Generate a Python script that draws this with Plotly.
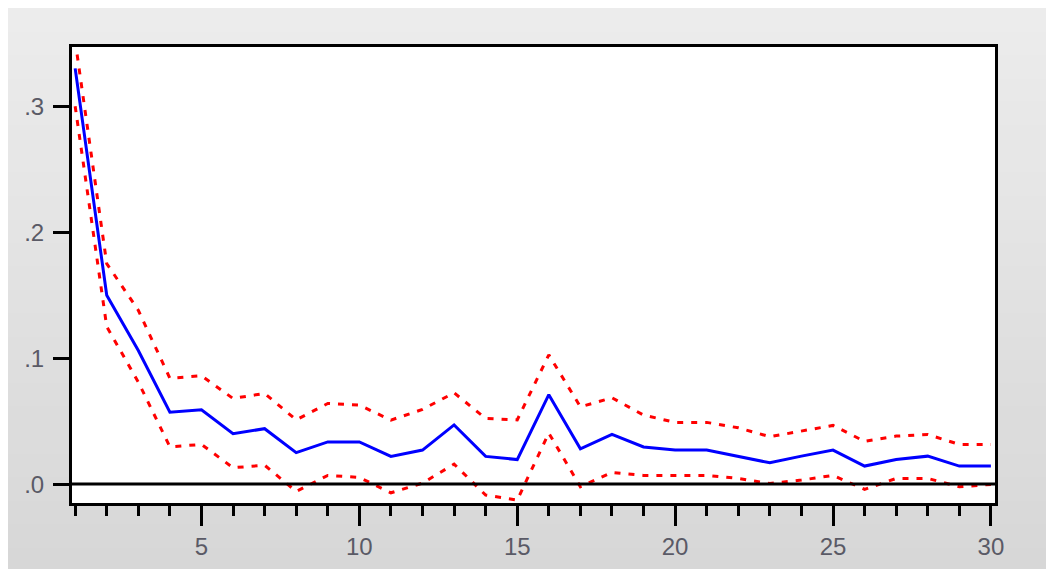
import plotly.graph_objects as go

periods = list(range(1, 31))
response = [0.330, 0.150, 0.106, 0.057, 0.059, 0.040, 0.044, 0.025, 0.0335, 0.0335,
            0.022, 0.027, 0.047, 0.022, 0.0195, 0.071, 0.028, 0.0395, 0.0295, 0.027,
            0.027, 0.0222, 0.0169, 0.0222, 0.027, 0.0143, 0.0196, 0.0222, 0.0143, 0.0143]
upper = [0.352, 0.175, 0.138, 0.084, 0.086, 0.068, 0.072, 0.051, 0.064, 0.0627,
         0.0508, 0.0593, 0.0725, 0.0521, 0.051, 0.1026, 0.0614, 0.0685, 0.0548, 0.049,
         0.049, 0.0447, 0.0376, 0.0423, 0.0466, 0.0339, 0.0381, 0.0394, 0.0315, 0.0315]
lower = [0.300, 0.125, 0.081, 0.0296, 0.0315, 0.013, 0.015, -0.0058, 0.0069, 0.0053,
         -0.0069, 0.0008, 0.0159, -0.0087, -0.0127, 0.0405, -0.0021, 0.0093, 0.0069, 0.0069,
         0.0069, 0.0045, 0.0005, 0.0032, 0.0069, -0.0042, 0.0045, 0.0045, -0.0021, -0.0003]
y_tick_vals = [0.0, 0.1, 0.2, 0.3]
y_tick_text = [".0", ".1", ".2", ".3"]
x_tick_vals = [5, 10, 15, 20, 25, 30]

OFF = 8  # page body margin
W, H = 1054 - OFF, 569 - OFF
L, R, T, B = 72 - OFF, 995 - OFF, 47 - OFF, 503 - OFF  # plot area in figure pixels

def px_x(p):
    return (p - L) / (R - L)

def px_y(p):
    return (B - p) / (B - T)

fig = go.Figure()

fig.add_trace(go.Scatter(x=periods, y=upper, mode="lines",
                         line=dict(color="#ff0000", width=3, dash="6px,8px"),
                         showlegend=False, hoverinfo="skip"))
fig.add_trace(go.Scatter(x=periods, y=lower, mode="lines",
                         line=dict(color="#ff0000", width=3, dash="6px,8px"),
                         showlegend=False, hoverinfo="skip"))
fig.add_trace(go.Scatter(x=periods, y=response, mode="lines",
                         line=dict(color="#0000ff", width=3),
                         showlegend=False, hoverinfo="skip"))

# gradient gray background (bands)
shapes = []
n = 24
top_px, bot_px = 0, H + 2
for i in range(n):
    y0 = top_px + (bot_px - top_px) * i / n
    y1 = top_px + (bot_px - top_px) * (i + 1) / n + 1
    c = int(round(236 - (236 - 215) * i / (n - 1)))
    shapes.append(dict(type="rect", xref="paper", yref="paper", layer="below",
                       x0=px_x(-2), x1=px_x(W + 2), y0=px_y(y1), y1=px_y(y0),
                       fillcolor=f"rgb({c},{c},{c})", line=dict(width=0)))
# white plot area
shapes.append(dict(type="rect", xref="paper", yref="paper", layer="below",
                   x0=0, x1=1, y0=0, y1=1, fillcolor="white", line=dict(width=0)))
# zero line
shapes.append(dict(type="line", xref="paper", yref="y", layer="above",
                   x0=0, x1=1, y0=0, y1=0, line=dict(color="black", width=3)))

fig.update_layout(
    width=W, height=H,
    margin=dict(l=L, r=W - R, t=T, b=H - B, autoexpand=False),
    paper_bgcolor="#e2e2e2", plot_bgcolor="white",
    shapes=shapes,
    font=dict(family="Liberation Sans, Arial, sans-serif", size=24, color="#5a5a66"),
)
fig.update_xaxes(range=[0.9, 30.13], showgrid=False, zeroline=False,
                 showline=True, mirror=True, linecolor="black", linewidth=3,
                 ticks="outside", ticklen=20, tickwidth=3, tickcolor="black",
                 tickvals=x_tick_vals, ticktext=[str(v) for v in x_tick_vals],
                 minor=dict(ticks="outside", ticklen=10, tickwidth=3, tickcolor="black",
                            tick0=0, dtick=1, showgrid=False))
fig.update_yaxes(range=[-0.015, 0.347], showgrid=False, zeroline=False,
                 showline=True, mirror=True, linecolor="black", linewidth=3,
                 ticks="outside", ticklen=16, tickwidth=3, tickcolor="black",
                 tickvals=y_tick_vals, ticktext=y_tick_text, ticklabelstandoff=4)

fig.write_html("out.html")
